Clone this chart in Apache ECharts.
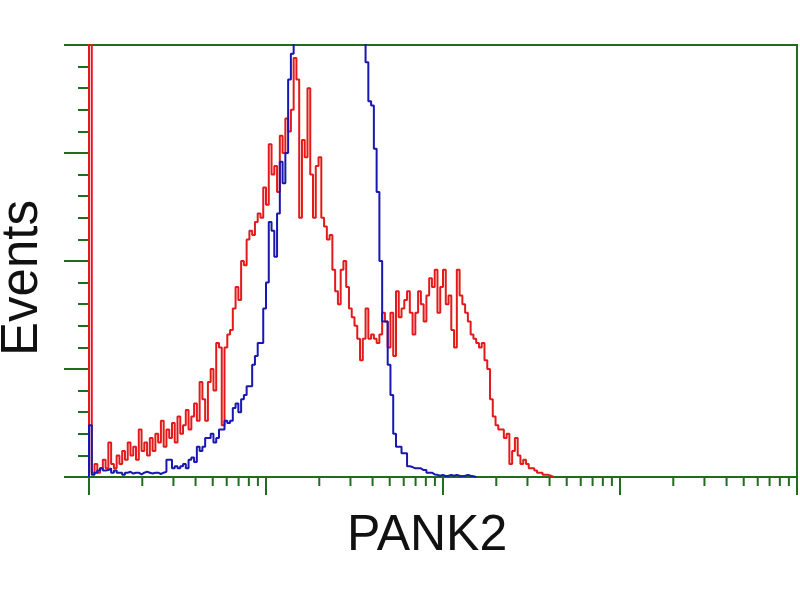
<!DOCTYPE html>
<html>
<head>
<meta charset="utf-8">
<script src="https://cdn.jsdelivr.net/npm/echarts@6/dist/echarts.min.js"></script>
<style>html,body{margin:0;padding:0;background:#fff}#chart{width:800px;height:600px}</style>
</head>
<body>
<div id="chart"></div>
<script>
// Histogram channels: 64 channels per decade on a 4-decade log axis (1 .. 10^4)
const CHANNELS_PER_DECADE = 64;

// Red histogram (PANK2 stained), counts per channel starting at channel 0
const redCounts = [
  140, 1, 3, 1, 2, 4, 2, 8, 3, 2,
  5, 3, 6, 4, 8, 5, 7, 4, 11, 6,
  8, 5, 9, 6, 10, 8, 13, 7, 11, 9,
  12.5, 8, 14, 10, 12, 15.5, 11, 14, 17, 13,
  22, 18, 13, 22, 25, 20, 31, 30, 12, 30,
  33, 34, 39, 44, 41, 50, 49, 55, 57, 56,
  59, 61, 60, 67, 63, 77, 70, 72, 66, 79,
  75, 83, 80, 85, 97, 92, 60, 78, 74, 90,
  70, 60, 72, 74, 60, 58, 55, 56, 48, 43,
  40, 48, 50, 44, 39, 37, 35, 32, 27, 32,
  39, 32, 33, 32, 31, 33, 38, 36, 30, 38,
  28, 43, 37, 39, 41, 43, 38, 33, 38, 43,
  40, 36, 42, 46, 44, 48, 38, 44, 48, 40,
  42, 34, 30, 48, 42, 40, 38, 36, 33, 32,
  31, 30, 31, 27, 25, 18, 14, 12, 11, 11,
  9, 10, 3, 6, 9, 5, 3, 4, 3, 2,
  2, 1.5, 1, 1, 0.5, 0.5, 0.3, 0
];

// Blue histogram (isotype control), counts per channel starting at channel 0
const blueCounts = [
  12, 0.5, 1, 1.5, 2, 1.5, 1.6, 2, 1, 1.5,
  1, 1, 0.5, 1, 1.2, 0.8, 1, 1, 0.6, 1,
  1.2, 1, 0.8, 1, 1, 0.7, 1, 1.2, 4, 4,
  2, 2.5, 2, 2.5, 3, 2, 4, 4.5, 3.5, 7,
  6, 7, 9, 9, 10, 8, 9, 11, 11, 13,
  12.5, 13, 16, 17, 15, 18, 19, 21, 21, 26,
  28, 31, 31, 39, 45, 59, 57, 51, 61, 73,
  68, 75, 92, 98, 120, 140, 150, 160, 170, 180,
  190, 195, 200, 200, 200, 200, 200, 200, 200, 200,
  200, 195, 190, 185, 180, 170, 160, 150, 140, 120,
  96, 87, 86, 76, 66, 50, 36, 36, 26, 19,
  10, 7, 7, 5.5, 5.5, 2.5, 2.3, 2, 2, 2,
  1.6, 1.6, 1, 1, 0.6, 0.5, 0.3, 0.5, 0.2, 0.3,
  0.5, 0.3, 0.5, 0.3, 0.2, 0.3, 0.5, 0.3, 0.2, 0
];

// Axis ticks
const xDecades = [1, 10, 100, 1000];
const xMinorMultipliers = [2, 3, 4, 5, 6, 7, 8, 9];
const xMin = 1, xMax = 10000;
const yMin = 0, yMax = 100, yInterval = 25;

const xAxisTitle = 'PANK2';
const yAxisTitle = 'Events';

const GREEN = '#1e6e1e';

function channelEdge(i) { return Math.pow(10, i / CHANNELS_PER_DECADE); }
function toSteps(counts) {
  const pts = [[channelEdge(0), 0]];
  counts.forEach((v, i) => pts.push([channelEdge(i), v]));
  pts.push([channelEdge(counts.length), 0]);
  return pts;
}
const minorTickValues = [];
xDecades.forEach(d => xMinorMultipliers.forEach(m => minorTickValues.push([d * m])));

const chart = echarts.init(document.getElementById('chart'), null, {renderer: 'canvas'});
chart.setOption({
  animation: false,
  backgroundColor: '#ffffff',
  grid: {left: 89, right: 3, top: 45, bottom: 123, show: true, borderColor: GREEN, borderWidth: 2, backgroundColor: 'transparent'},
  xAxis: {
    type: 'log', logBase: 10, min: xMin, max: xMax,
    axisLine: {show: true, lineStyle: {color: GREEN, width: 2}},
    axisTick: {show: true, length: 18, lineStyle: {color: GREEN, width: 2}},
    axisLabel: {show: false},
    splitLine: {show: false},
    minorTick: {show: false}
  },
  yAxis: {
    type: 'value', min: yMin, max: yMax, interval: yInterval,
    axisLine: {show: true, lineStyle: {color: GREEN, width: 2}},
    axisTick: {show: true, length: 25, lineStyle: {color: GREEN, width: 2}},
    minorTick: {show: true, splitNumber: 5, length: 11, lineStyle: {color: GREEN, width: 2}},
    axisLabel: {show: false},
    splitLine: {show: false}
  },
  graphic: [
    {type: 'text', left: 347, top: 511, style: {text: xAxisTitle, font: '50px "Liberation Sans", Arial, sans-serif', fill: '#111'}},
    {type: 'text', x: 23, y: 278, rotation: Math.PI / 2,
      style: {text: yAxisTitle, font: '51px "Liberation Sans", Arial, sans-serif', fill: '#111', align: 'center', verticalAlign: 'middle'}}
  ],
  series: [
    {
      type: 'custom', silent: true, clip: false, z: 1,
      data: minorTickValues,
      renderItem: function (params, api) {
        const p = api.coord([api.value(0), yMin]);
        return {type: 'line', shape: {x1: p[0], y1: p[1], x2: p[0], y2: p[1] + 9},
          style: {stroke: GREEN, lineWidth: 2}};
      }
    },
    {
      name: 'PANK2', type: 'line', step: 'end', showSymbol: false, clip: true, z: 3,
      data: toSteps(redCounts),
      lineStyle: {color: '#e41a1a', width: 2}
    },
    {
      name: 'Control', type: 'line', step: 'end', showSymbol: false, clip: true, z: 4,
      data: toSteps(blueCounts),
      lineStyle: {color: '#1818b0', width: 2}
    }
  ]
});
</script>
</body>
</html>
